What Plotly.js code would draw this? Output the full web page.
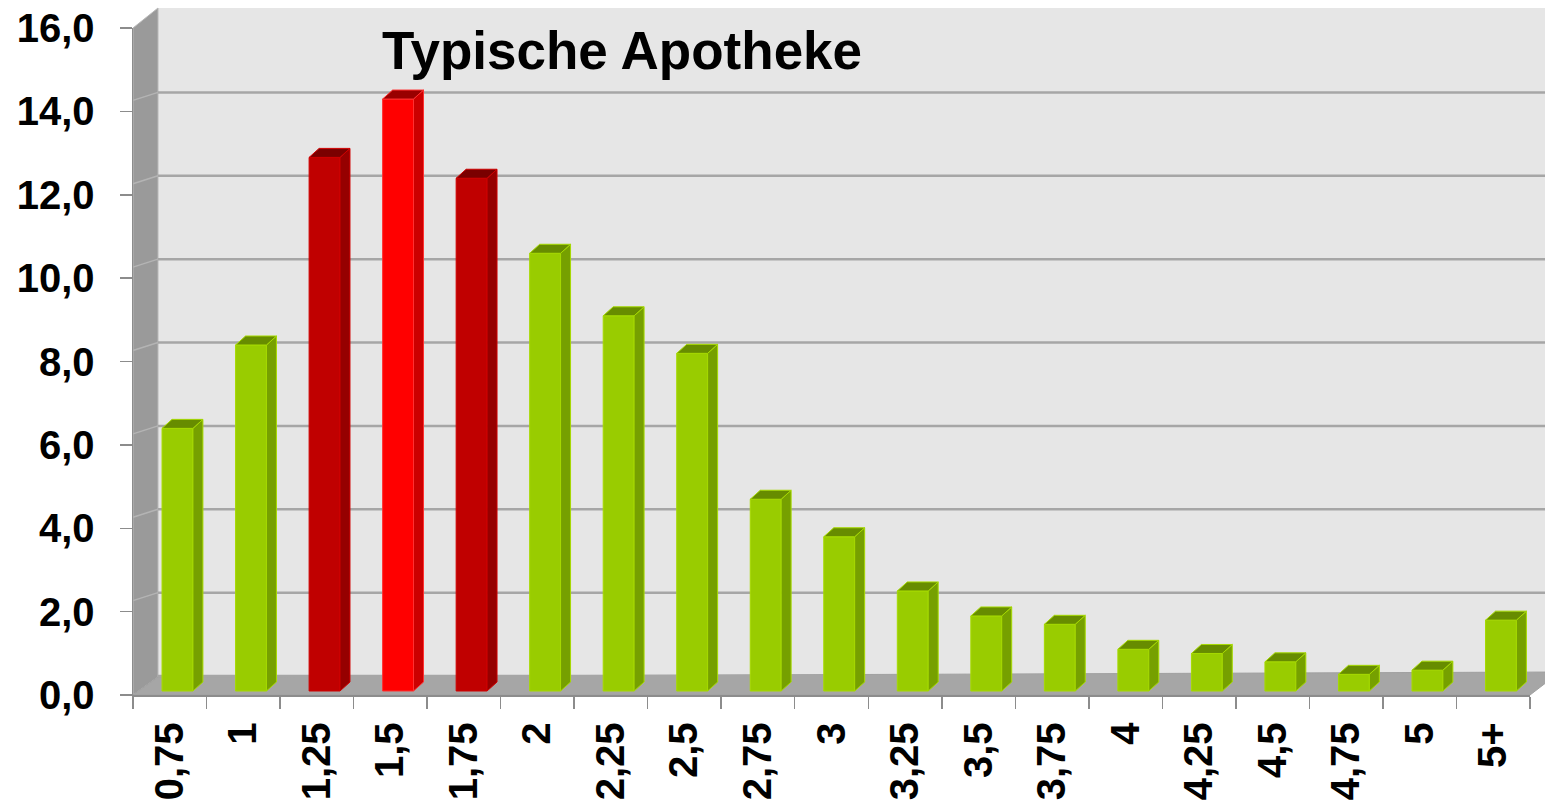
<!DOCTYPE html>
<html>
<head>
<meta charset="utf-8">
<script src="https://cdn.plot.ly/plotly-3.0.1.min.js"></script>
<style>html,body{margin:0;padding:0;background:#fff;}#chart{width:1545px;height:808px;}</style>
</head>
<body>
<div id="chart"></div>
<script>
// ---- data ----
var categories = ["0,75","1","1,25","1,5","1,75","2","2,25","2,5","2,75","3","3,25","3,5","3,75","4","4,25","4,5","4,75","5","5+"];
var values = [6.3, 8.3, 12.8, 14.2, 12.3, 10.5, 9.0, 8.1, 4.6, 3.7, 2.4, 1.8, 1.6, 1.0, 0.9, 0.7, 0.4, 0.5, 1.7];
var yTicks = [0, 2, 4, 6, 8, 10, 12, 14, 16];
var chartTitle = "Typische Apotheke";

// ---- style ----
var highlight = {"1,25": "near", "1,5": "peak", "1,75": "near"};
var palette = {
  normal: {front: "#99CC00", side: "#76A000", top: "#678C00", edge: "#A6DA00"},
  near:   {front: "#C00000", side: "#960000", top: "#7A0000", edge: "#D00000"},
  peak:   {front: "#FF0000", side: "#CC0000", top: "#990000", edge: "#FF3030"}
};
var W = 1412, H = 687;            // plot area in px
var L = 133, T = 8;               // margins
var catPx = 1397 / categories.length;
var unitPx = 667 / 16;
var wallDX = 25, wallDY = 19;     // px depth of back wall
var barOff = -0.105, barW = 0.42; // bar front face position (category units)
var depthX = 10 / catPx, depthY = 9 / unitPx; // bar depth
var baseShift = 4 / unitPx;

function px(p) { return (p - L) / W; }
function py(p) { return (695 - p) / H; }

var styleOf = categories.map(function (c) { return palette[highlight[c] || "normal"]; });

var shapes = [];
// back wall
shapes.push({type: "rect", xref: "paper", yref: "paper", x0: px(L + wallDX), x1: px(1545), y0: py(677), y1: py(T),
  fillcolor: "#E6E6E6", line: {width: 0}, layer: "below"});
// side wall
shapes.push({type: "path", xref: "paper", yref: "paper",
  path: "M0," + py(695) + " L" + px(L + wallDX) + "," + py(677) + " L" + px(L + wallDX) + "," + py(T) + " L0," + py(28) + " Z",
  fillcolor: "#9A9A9A", line: {color: "#B8B8B8", width: 1}, layer: "below"});
// floor
shapes.push({type: "path", xref: "paper", yref: "paper",
  path: "M0," + py(695) + " L" + px(1530) + "," + py(695) + " L" + px(1560) + "," + py(672) + " L" + px(L + wallDX) + "," + py(677) + " Z",
  fillcolor: "#A6A6A6", line: {color: "#A0A0A0", width: 1}, layer: "below"});
// wall gridlines and side wall lines
yTicks.forEach(function (v) {
  shapes.push({type: "line", xref: "paper", yref: "y", ysizemode: "pixel", yanchor: v,
    x0: px(L + wallDX), x1: px(1545), y0: wallDY, y1: wallDY,
    line: {color: "#A6A6A6", width: 2.5}, layer: "below"});
  if (v > 0 && v < 16) {
    shapes.push({type: "line", xref: "paper", yref: "y", ysizemode: "pixel", yanchor: v,
      x0: 0, x1: px(L + wallDX), y0: 11, y1: wallDY,
      line: {color: "#B4B4B4", width: 1.5}, layer: "below"});
  }
});
// bar side and top faces
values.forEach(function (v, i) {
  var s = styleOf[i];
  var xl = i + barOff, xr = i + barOff + barW;
  shapes.push({type: "path", xref: "x", yref: "y2", layer: "above",
    path: "M" + xr + ",0 L" + xr + "," + v + " L" + (xr + depthX) + "," + (v + depthY) + " L" + (xr + depthX) + "," + depthY + " Z",
    fillcolor: s.side, line: {color: s.edge, width: 1}});
  shapes.push({type: "path", xref: "x", yref: "y2", layer: "above",
    path: "M" + xl + "," + v + " L" + xr + "," + v + " L" + (xr + depthX) + "," + (v + depthY) + " L" + (xl + depthX) + "," + (v + depthY) + " Z",
    fillcolor: s.top, line: {color: s.edge, width: 1}});
});

var trace = {
  type: "bar", x: categories, y: values, xaxis: "x", yaxis: "y2",
  offset: barOff, width: barW,
  marker: {color: styleOf.map(function (s) { return s.front; }),
           line: {color: styleOf.map(function (s) { return s.edge; }), width: 1}},
  hoverinfo: "x+y"
};

var font = {family: "Liberation Sans, Arial, sans-serif", color: "#000"};
var layout = {
  width: 1545, height: 808,
  margin: {l: L, r: 0, t: T, b: 113},
  paper_bgcolor: "#FFFFFF", plot_bgcolor: "rgba(0,0,0,0)",
  separators: ",.",
  showlegend: false,
  title: {text: chartTitle, font: {family: font.family, size: 53, weight: "bold", color: "#000"},
    xref: "container", x: 382 / 1545, xanchor: "left", yref: "container", y: 1 - 50 / 808, yanchor: "middle"},
  xaxis: {type: "category", domain: [0, 1397 / W], range: [-0.5, categories.length - 0.5],
    tickson: "boundaries", ticks: "outside", ticklen: 12, tickcolor: "#8C8C8C", tickwidth: 1.5,
    showline: true, linecolor: "#8C8C8C", linewidth: 1.5, showgrid: false, zeroline: false,
    tickangle: -90, ticklabelstandoff: 10,
    tickfont: {family: font.family, size: 40, weight: "bold", color: "#000"}, automargin: false, fixedrange: true},
  yaxis: {domain: [0, 667 / H], range: [0, 16], tickvals: yTicks, tickformat: ".1f",
    ticks: "outside", ticklen: 12, tickcolor: "#8C8C8C", tickwidth: 1.5,
    showline: true, linecolor: "#8C8C8C", linewidth: 1.5, showgrid: false, zeroline: false,
    ticklabelstandoff: 17,
    tickfont: {family: font.family, size: 40, weight: "bold", color: "#000"}, automargin: false, fixedrange: true},
  yaxis2: {overlaying: "y", range: [-baseShift, 16 - baseShift], visible: false, showgrid: false, zeroline: false, fixedrange: true},
  shapes: shapes,
  bargap: 0
};

Plotly.newPlot("chart", [trace], layout, {displayModeBar: false, staticPlot: true});
</script>
</body>
</html>
